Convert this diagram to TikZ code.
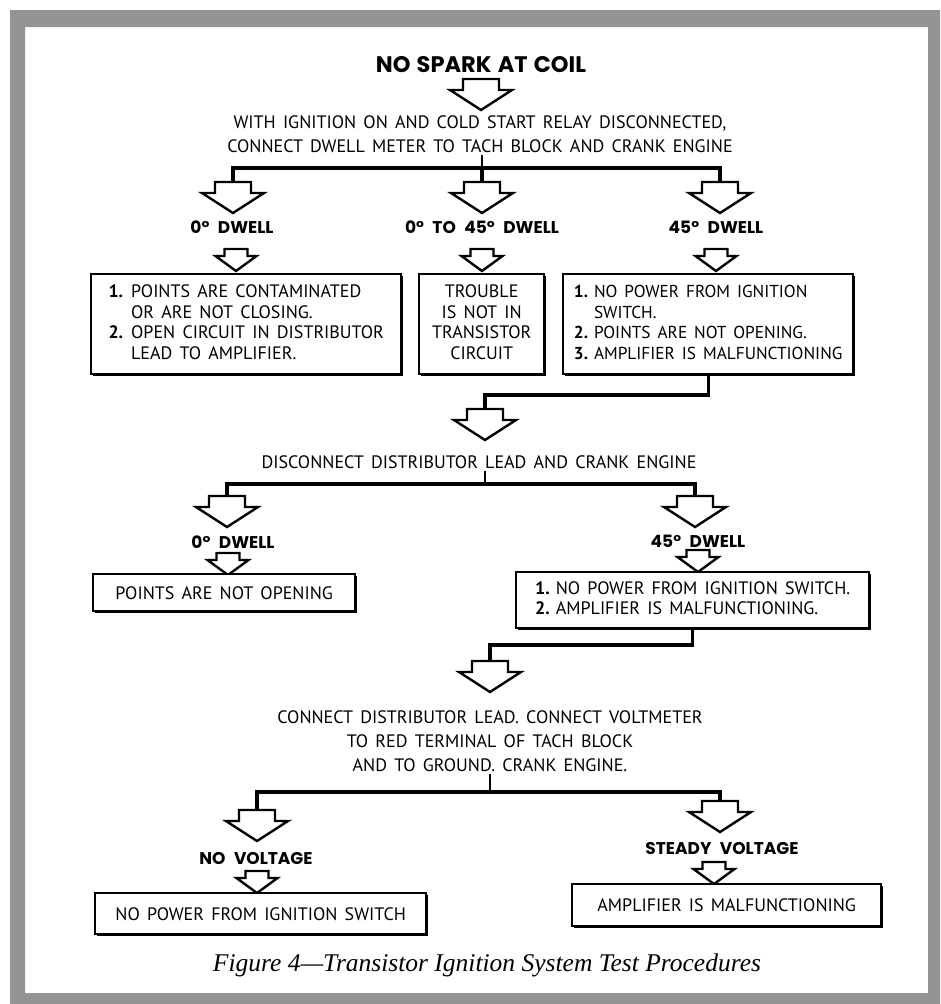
\documentclass[tikz,border=0pt]{standalone}
\usepackage{fontspec}
\setmainfont{PT Sans}[WordSpace=1.5]
\newfontfamily\lblfont{Poppins}[WordSpace=1.3]
\newfontfamily\capfont{Liberation Serif}
\usetikzlibrary{positioning,calc,shadows}

\tikzset{
    bigdown/.pic={
        \draw[hollow] (-18,0) -- (18,0) -- (18,11) -- (31,11) -- (0,31) -- (-31,11) -- (-18,11) -- cycle;
        \coordinate (-top) at (0,0);
    },
    smalldown/.pic={
        \draw[hollow] (-11.5,0) -- (11.5,0) -- (11.5,7) -- (20.5,7) -- (0,22) -- (-20.5,7) -- (-11.5,7) -- cycle;
        \coordinate (-top) at (0,0);
    }
}

\begin{document}
\begin{tikzpicture}[x=1pt, y=-1pt,
    hollow/.style={draw, line width=2.4pt, fill=white, line join=miter},
    conn/.style={line width=3.4pt, line join=miter},
    stem/.style={line width=2.6pt},
    box/.style={draw, line width=2.4pt, fill=white, inner sep=0pt, anchor=north west,
        drop shadow={shadow xshift=1.6pt, shadow yshift=-1.8pt, opacity=1, fill=black}},
    instr/.style={font=\fontsize{18}{24}\selectfont, align=center, inner sep=2pt},
    boxtext/.style={font=\fontsize{18}{20.5}\selectfont},
    lbl/.style={font=\lblfont\bfseries\fontsize{17}{19}\selectfont, inner sep=1pt},
    title/.style={font=\lblfont\bfseries\fontsize{22.5}{26}\selectfont}
]

% page and grey frame
\fill[white] (0,0) rectangle (940,1004);
\fill[black!42, even odd rule] (10,10) rectangle (940,1004) (25,27) rectangle (928,993);
\useasboundingbox (0,0) rectangle (940,1004);

% first test
\node[title] (nospark) at (481,65) {NO SPARK AT COIL};
\pic (a0) at (481,79) {bigdown};
\node[instr] (s1) at (480,134.5) {WITH IGNITION ON AND COLD START RELAY DISCONNECTED,\\CONNECT DWELL METER TO TACH BLOCK AND CRANK ENGINE};
\coordinate (j1) at (482,168);
\pic (a1) at (233,182) {bigdown};
\pic (a2) at (482,182) {bigdown};
\pic (a3) at (720,182) {bigdown};
\draw[stem] (s1.south -| j1) -- (j1);
\draw[conn] (a1-top) |- (j1) -| (a3-top);
\draw[conn] (j1) -- (a2-top);

\node[lbl] (l1) at (232,227) {0°\enspace DWELL};
\node[lbl] (l2) at (482,227) {0°\enspace TO\enspace 45°\enspace DWELL};
\node[lbl] (l3) at (716,227) {45°\enspace DWELL};
\pic (sa1) at (236,249) {smalldown};
\pic (sa2) at (482,249) {smalldown};
\pic (sa3) at (716,249) {smalldown};

\node[box, boxtext, minimum width=310, minimum height=100] (b1) at (90,273) {%
    \begin{tabular}{@{}l@{\hspace{8pt}}l@{}}
    \textbf{1.} & POINTS ARE CONTAMINATED\\
                & OR ARE NOT CLOSING.\\
    \textbf{2.} & OPEN CIRCUIT IN DISTRIBUTOR\\
                & LEAD TO AMPLIFIER.
    \end{tabular}};
\node[box, boxtext, minimum width=125, minimum height=100] (b2) at (418,273) {%
    \begin{tabular}{@{}c@{}}
    TROUBLE\\ IS NOT IN\\ TRANSISTOR\\ CIRCUIT
    \end{tabular}};
\node[box, font=\fontsize{17.3}{20.5}\selectfont, minimum width=290, minimum height=100] (b3) at (562,273) {%
    \begin{tabular}{@{}l@{\hspace{6pt}}l@{}}
    \textbf{1.} & NO POWER FROM IGNITION\\
                & SWITCH.\\
    \textbf{2.} & POINTS ARE NOT OPENING.\\
    \textbf{3.} & AMPLIFIER IS MALFUNCTIONING
    \end{tabular}};

% second test
\coordinate (j2) at (485,395);
\pic (a4) at (485,409) {bigdown};
\draw[conn] (b3.south) |- (j2) -- (a4-top);
\node[instr] (s2) at (479,462) {DISCONNECT DISTRIBUTOR LEAD AND CRANK ENGINE};
\coordinate (j3) at (485,484);
\pic (a5) at (227,496) {bigdown};
\pic (a6) at (695,496) {bigdown};
\draw[stem] (s2.south -| j3) -- (j3);
\draw[conn] (a5-top) |- (j3) -| (a6-top);

\node[lbl] (l4) at (233,542) {0°\enspace DWELL};
\node[lbl] (l5) at (698,541) {45°\enspace DWELL};
\pic (sa4) at (228,553) {smalldown};
\pic (sa5) at (698,550) {smalldown};

\node[box, boxtext, minimum width=262, minimum height=37] (b4) at (92,573) {POINTS ARE NOT OPENING};
\node[box, boxtext, minimum width=353, minimum height=56] (b5) at (515,571) {%
    \begin{tabular}{@{}l@{\hspace{6pt}}l@{}}
    \textbf{1.} & NO POWER FROM IGNITION SWITCH.\\
    \textbf{2.} & AMPLIFIER IS MALFUNCTIONING.
    \end{tabular}};

% third test
\coordinate (j4) at (490,645);
\pic (a7) at (490,661) {bigdown};
\draw[conn] (b5.south) |- (j4) -- (a7-top);
\node[instr] (s3) at (490,741) {CONNECT DISTRIBUTOR LEAD. CONNECT VOLTMETER\\TO RED TERMINAL OF TACH BLOCK\\AND TO GROUND. CRANK ENGINE.};
\coordinate (j5) at (490,792);
\pic (a8) at (257,810) {bigdown};
\pic (a9) at (720,801) {bigdown};
\draw[stem] (s3.south -| j5) -- (j5);
\draw[conn] (a8-top) |- (j5) -| (a9-top);

\node[lbl] (l6) at (256,858) {NO\enspace VOLTAGE};
\node[lbl] (l7) at (722,848) {STEADY\enspace VOLTAGE};
\pic (sa6) at (257,871) {smalldown};
\pic (sa7) at (714,862) {smalldown};

\node[box, boxtext, minimum width=331, minimum height=41] (b6) at (94,892) {NO POWER FROM IGNITION SWITCH};
\node[box, boxtext, minimum width=309, minimum height=42] (b7) at (571,883) {AMPLIFIER IS MALFUNCTIONING};

\node[font=\capfont\itshape\fontsize{25.5}{30}\selectfont] (caption) at (487,965) {Figure 4—Transistor Ignition System Test Procedures};

\end{tikzpicture}
\end{document}
